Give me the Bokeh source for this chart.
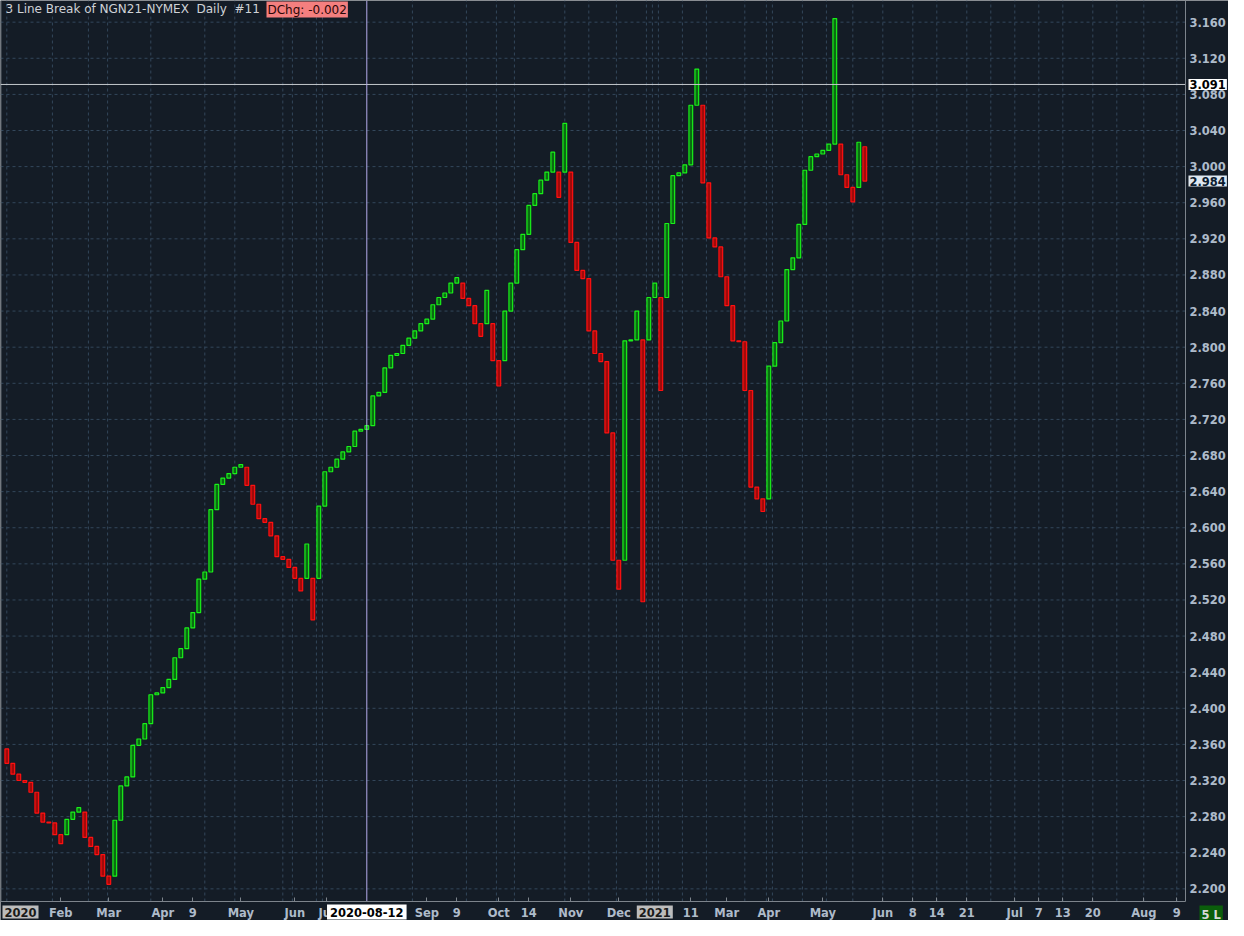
from bokeh.plotting import figure
from bokeh.models import (FixedTicker, PrintfTickFormatter, Range1d, Label,
                          LinearAxis, ColumnDataSource)
from bokeh.embed import file_html
from bokeh.resources import INLINE

# ---------------- data ----------------
brick_open = [
    2.355, 2.339, 2.327, 2.320, 2.318, 2.307, 2.284, 2.274, 2.273, 2.260,
    2.260, 2.277, 2.285, 2.285, 2.257, 2.247, 2.238, 2.214, 2.214, 2.276,
    2.314, 2.324, 2.359, 2.366, 2.383, 2.415, 2.417, 2.423, 2.432, 2.456,
    2.466, 2.489, 2.506, 2.543, 2.551, 2.620, 2.648, 2.655, 2.660, 2.667,
    2.667, 2.647, 2.626, 2.610, 2.606, 2.591, 2.568, 2.565, 2.556, 2.544,
    2.544, 2.544, 2.544, 2.624, 2.662, 2.667, 2.676, 2.684, 2.690, 2.707,
    2.709, 2.713, 2.746, 2.750, 2.777, 2.791, 2.793, 2.802, 2.810, 2.818,
    2.826, 2.831, 2.847, 2.855, 2.860, 2.871, 2.871, 2.854, 2.846, 2.826,
    2.826, 2.826, 2.785, 2.785, 2.840, 2.871, 2.908, 2.925, 2.957, 2.970,
    2.985, 2.994, 2.994, 2.994, 2.994, 2.916, 2.885, 2.876, 2.818, 2.793,
    2.784, 2.705, 2.564, 2.564, 2.807, 2.808, 2.808, 2.808, 2.855, 2.855,
    2.855, 2.937, 2.990, 2.993, 3.002, 3.068, 3.068, 2.982, 2.921, 2.911,
    2.878, 2.846, 2.807, 2.806, 2.752, 2.645, 2.632, 2.632, 2.779, 2.805,
    2.829, 2.886, 2.899, 2.936, 2.996, 3.011, 3.014, 3.018, 3.025, 3.025,
    2.991, 2.977, 2.977, 3.022,
]
brick_close = [
    2.339, 2.327, 2.320, 2.318, 2.307, 2.284, 2.274, 2.273, 2.260, 2.250,
    2.277, 2.285, 2.290, 2.257, 2.247, 2.238, 2.214, 2.205, 2.276, 2.314,
    2.324, 2.359, 2.366, 2.383, 2.415, 2.417, 2.423, 2.432, 2.456, 2.466,
    2.489, 2.506, 2.543, 2.551, 2.620, 2.648, 2.655, 2.660, 2.667, 2.670,
    2.647, 2.626, 2.610, 2.606, 2.591, 2.568, 2.565, 2.556, 2.544, 2.530,
    2.582, 2.498, 2.624, 2.662, 2.667, 2.676, 2.684, 2.690, 2.707, 2.709,
    2.713, 2.746, 2.750, 2.777, 2.791, 2.793, 2.802, 2.810, 2.818, 2.826,
    2.831, 2.847, 2.855, 2.860, 2.871, 2.877, 2.854, 2.846, 2.826, 2.812,
    2.863, 2.785, 2.757, 2.840, 2.871, 2.908, 2.925, 2.957, 2.970, 2.985,
    2.994, 3.016, 2.966, 3.048, 2.916, 2.885, 2.876, 2.818, 2.793, 2.784,
    2.705, 2.564, 2.532, 2.807, 2.808, 2.840, 2.518, 2.855, 2.871, 2.752,
    2.937, 2.990, 2.993, 3.002, 3.068, 3.108, 2.982, 2.921, 2.911, 2.878,
    2.846, 2.807, 2.806, 2.752, 2.645, 2.632, 2.618, 2.779, 2.805, 2.829,
    2.886, 2.899, 2.936, 2.996, 3.011, 3.014, 3.018, 3.025, 3.164, 2.991,
    2.977, 2.961, 3.027, 2.984,
]

# x-axis (brick index positions of the date labels)
x_tick_pos = [9, 17, 26, 31, 39, 48, 53.3, 70, 75, 82, 87, 94, 102, 114, 120,
              127, 136, 146, 151, 155, 160, 168, 172, 176, 181, 189.5, 195]
x_tick_labels = ["Feb", "Mar", "Apr", "9", "May", "Jun", "Jul", "Sep", "9",
                 "Oct", "14", "Nov", "Dec", "11", "Mar", "Apr", "May", "Jun",
                 "8", "14", "21", "Jul", "7", "13", "20", "Aug", "9"]
year_labels = ["2020", "2021"]
year_label_pos = [None, 108.0]
vgrid_pos = [0, 7.6, 13.6, 16.8, 24, 33, 38, 46, 47.6, 51.6, 52.6, 67.6, 76.6,
             81.6, 84.6, 93, 97, 101.6, 106.6, 107.6, 108.6, 112.6, 116.6, 123,
             126.6, 127.6, 132.6, 136.6, 141, 146, 151, 155, 160, 164, 168,
             172, 176, 181, 185, 189.5, 195]

y_ticks = [round(2.20 + 0.04 * k, 3) for k in range(25)]

title_text = "3 Line Break of NGN21-NYMEX\u00a0 Daily\u00a0 #11"
dchg_text = "DChg: -0.002"
cross_price = 3.091
last_price = 2.984
cross_index = 60
cross_date = "2020-08-12"
bar_count_text = "5 L"

# ---------------- layout ----------------
BG = "#141c26"
GRID = "#33475b"
AXC = "#7d848c"
LABC = "#aebbca"
W, H = 1228, 920            # canvas
PLOT_W, PLOT_H = 1185, 901  # plotting area inside the canvas
PX_PER_BRICK = 6.0
X0 = -1.05
X_AX = X0 + PLOT_W / PX_PER_BRICK
Y_AX, Y1 = 2.186, 3.184
X_END = X0 + W / PX_PER_BRICK
Y_START = Y1 - H * (Y1 - Y_AX) / PLOT_H

p = figure(width=W, height=H, output_backend="svg", toolbar_location=None,
           x_range=Range1d(X0, X_END), y_range=Range1d(Y_START, Y1),
           x_axis_type=None, y_axis_type=None, min_border=0)
p.background_fill_color = BG
p.border_fill_color = BG
p.outline_line_color = None

# grid
p.segment(x0=X0, x1=X_AX, y0=y_ticks, y1=y_ticks, line_color=GRID,
          line_dash="3 3", line_width=1)
p.segment(x0=vgrid_pos, x1=vgrid_pos, y0=Y_AX, y1=Y1, line_color=GRID,
          line_dash="3 3", line_width=1)
# left frame edge
p.segment(x0=[X0], x1=[X0], y0=[Y_AX], y1=[Y1], line_color="#5d646c",
          line_width=2)

# axes
xaxis = LinearAxis(fixed_location=Y_AX, bounds=(X0, X_AX),
                   ticker=FixedTicker(ticks=x_tick_pos))
xaxis.major_label_overrides = {t: l for t, l in zip(x_tick_pos, x_tick_labels)}
xaxis.major_tick_out = 0
xaxis.major_tick_in = 4
xaxis.major_label_standoff = 4
yaxis = LinearAxis(fixed_location=X_AX, bounds=(Y_AX, Y1),
                   ticker=FixedTicker(ticks=y_ticks),
                   formatter=PrintfTickFormatter(format="%.3f"))
yaxis.major_tick_out = 0
yaxis.major_tick_in = 0
yaxis.major_label_standoff = 4
for ax in (xaxis, yaxis):
    ax.axis_line_color = AXC
    ax.major_tick_line_color = AXC
    ax.minor_tick_line_color = None
    ax.major_label_text_font = "DejaVu Sans"
    ax.major_label_text_font_style = "bold"
    ax.major_label_text_font_size = "11.5px"
    ax.major_label_text_color = LABC
p.add_layout(xaxis, "below")
p.add_layout(yaxis, "right")

# bricks
lo = [min(o, c) for o, c in zip(brick_open, brick_close)]
hi = [max(o, c) for o, c in zip(brick_open, brick_close)]
up = [c > o for o, c in zip(brick_open, brick_close)]
idx = list(range(len(brick_close)))
src = ColumnDataSource(dict(
    left=[i - 0.31 for i in idx], right=[i + 0.31 for i in idx],
    bottom=lo, top=hi,
    fill=["#0b6b12" if u else "#a00a0a" for u in up],
    line=["#19f019" if u else "#ff1010" for u in up],
))
p.quad(left="left", right="right", bottom="bottom", top="top", source=src,
       fill_color="fill", line_color="line", line_width=1.2)

# crosshair
p.segment(x0=[X0], x1=[X_AX], y0=[cross_price], y1=[cross_price],
          line_color="#c4c8cc", line_width=1)
p.segment(x0=[cross_index], x1=[cross_index], y0=[Y_AX], y1=[Y1],
          line_color="#b4acec", line_width=1)

# title and change box
p.add_layout(Label(x=X0, y=Y1, x_offset=5, y_offset=-1, text=title_text,
                   text_baseline="top", text_font="DejaVu Sans",
                   text_font_size="12px", text_color="#cfd2d6"))
p.add_layout(Label(x=X0, y=Y1, x_offset=266, y_offset=-1, text=dchg_text,
                   text_baseline="top", text_font="DejaVu Sans",
                   text_font_size="12px", text_color="#2a0606",
                   background_fill_color="#f47f7f", padding=1))

# price boxes on right axis
p.add_layout(Label(x=X_AX, y=cross_price, x_offset=3, text=f"{cross_price:.3f}",
                   text_baseline="middle", text_font="DejaVu Sans",
                   text_font_style="bold", text_font_size="11.5px",
                   text_color="#000000", background_fill_color="#ffffff",
                   padding=1))
p.add_layout(Label(x=X_AX, y=last_price, x_offset=3, text=f"{last_price:.3f}",
                   text_baseline="middle", text_font="DejaVu Sans",
                   text_font_style="bold", text_font_size="11.5px",
                   text_color="#0c1c30", background_fill_color="#dfe8f1",
                   padding=1))

# date boxes on bottom axis
p.add_layout(Label(x=cross_index, y=Y_AX, y_offset=-3, text=cross_date,
                   text_align="center", text_baseline="top",
                   text_font="DejaVu Sans", text_font_style="bold",
                   text_font_size="11.5px", text_color="#000000",
                   background_fill_color="#ffffff", padding=3))
for lab, pos in zip(year_labels, year_label_pos):
    if pos is None:
        lbl = Label(x=X0, y=Y_AX, x_offset=2, y_offset=-4, text=lab,
                    text_align="left")
    else:
        lbl = Label(x=pos, y=Y_AX, y_offset=-4, text=lab, text_align="center")
    lbl.text_baseline = "top"
    lbl.text_font = "DejaVu Sans"
    lbl.text_font_style = "bold"
    lbl.text_font_size = "11.5px"
    lbl.text_color = "#1a1a1a"
    lbl.background_fill_color = "#bcbcbc"
    lbl.padding = 2
    p.add_layout(lbl)
p.add_layout(Label(x=X_AX, y=Y_AX, x_offset=14, y_offset=-4, text=bar_count_text,
                   text_baseline="top", text_font="DejaVu Sans",
                   text_font_style="bold", text_font_size="11.5px",
                   text_color="#d8d8d8", background_fill_color="#0b5e0b",
                   padding=2))

open("out.html", "w").write(file_html(p, INLINE))
